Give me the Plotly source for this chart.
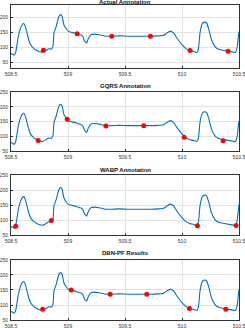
import plotly.graph_objects as go

# Signal (same in all panels)
sig_t = [508.500, 508.510, 508.520, 508.526, 508.535, 508.543, 508.554, 508.564, 508.584, 508.600,
         508.613, 508.630, 508.651, 508.671, 508.694, 508.723, 508.752, 508.781, 508.810, 508.833,
         508.854, 508.868, 508.877, 508.897, 508.920, 508.935, 508.949, 508.964, 508.984, 509.004,
         509.028, 509.057, 509.080, 509.100, 509.115, 509.130, 509.143, 509.155, 509.164, 509.172,
         509.181, 509.201, 509.230, 509.274, 509.332, 509.384, 509.448, 509.520, 509.600, 509.680,
         509.723, 509.790, 509.839, 509.868, 509.897, 509.926, 509.955, 509.999, 510.042, 510.071,
         510.100, 510.129, 510.143, 510.158, 510.178, 510.196, 510.216, 510.236, 510.259, 510.288,
         510.317, 510.361, 510.404, 510.448, 510.468, 510.483, 510.492, 510.500]
sig_v = [78, 77, 74, 73, 76, 85, 110, 135, 163, 175,
         178, 163, 130, 108, 97, 89, 84, 83, 89, 94,
         93, 102, 147, 169, 202, 208, 202, 174, 161, 152,
         149, 147, 144, 141, 140, 135, 122, 116, 113, 122,
         130, 141, 143, 141, 136, 136, 137, 136, 136, 136,
         136, 137, 139, 147, 153, 147, 130, 108, 93, 88,
         86, 82, 91, 147, 178, 183, 180, 158, 124, 102,
         93, 89, 86, 83, 82, 97, 125, 152]

# Annotation markers per panel
titles = ["Actual Annotation", "GQRS Annotation", "WABP Annotation", "DBN-PF Results"]
mk_t = [
    [508.784, 509.080, 509.384, 509.723, 510.071, 510.404],
    [508.738, 508.993, 509.332, 509.665, 510.019, 510.361],
    [508.541, 508.854, 510.135, 510.474],
    [508.778, 509.028, 509.370, 509.691, 510.065, 510.384],
]
mk_v = [
    [89, 144, 136, 136, 88, 86],
    [86, 158, 135, 136, 97, 85],
    [79, 98, 81, 82],
    [86, 150, 136, 136, 88, 86],
]
y_ranges = [[30, 240], [50, 250], [50, 250], [50, 250]]
y_ticks = [[50, 100, 150, 200], [50, 100, 150, 200, 250], [50, 100, 150, 200, 250], [50, 100, 150, 200, 250]]
x_ticks = [508.5, 509, 509.5, 510, 510.5]
x_tick_text = ["508.5", "509", "509.5", "510", "510.5"]

domains = [[0.800, 1.000], [0.5365, 0.7238], [0.2698, 0.4603], [0.0, 0.1905]]
title_y = [1.0095, 0.742, 0.476, 0.2127]

fig = go.Figure()
for i in range(4):
    xa = "x" if i == 0 else f"x{i+1}"
    ya = "y" if i == 0 else f"y{i+1}"
    fig.add_trace(go.Scatter(x=sig_t, y=sig_v, mode="lines", xaxis=xa, yaxis=ya,
                             line=dict(color="#0072BD", width=1.1, shape="spline", smoothing=0.5),
                             showlegend=False, hoverinfo="skip", cliponaxis=True))
    fig.add_trace(go.Scatter(x=mk_t[i], y=mk_v[i], mode="markers", xaxis=xa, yaxis=ya,
                             marker=dict(color="#FF0000", size=5), showlegend=False))
    axis_common = dict(showline=True, mirror=True, linecolor="#333333", linewidth=1,
                       showgrid=True, gridcolor="#E3E3E3", gridwidth=1, zeroline=False,
                       ticks="inside", ticklen=2, tickcolor="#333333", automargin=False,
                       ticklabeloverflow="allow",
                       tickfont=dict(size=5, color="#333333", family="Liberation Sans"))
    fig.layout[("xaxis" if i == 0 else f"xaxis{i+1}")] = dict(
        axis_common, range=[508.5, 510.5], tickvals=x_ticks, ticktext=x_tick_text,
        anchor=ya, domain=[0, 1], ticklabelstandoff=1)
    fig.layout[("yaxis" if i == 0 else f"yaxis{i+1}")] = dict(
        axis_common, range=y_ranges[i], tickvals=y_ticks[i], anchor=xa, domain=domains[i],
        ticklabelstandoff=1)
    fig.add_annotation(text="<b>" + titles[i] + "</b>", xref="paper", yref="paper",
                       x=0.5, y=title_y[i], xanchor="center", yanchor="middle",
                       showarrow=False, font=dict(size=6, color="#111111", family="Liberation Sans"))

fig.update_layout(width=245, height=328,
                  margin=dict(l=11, r=6, t=5, b=8, pad=0, autoexpand=False),
                  paper_bgcolor="white", plot_bgcolor="white", hovermode=False)
fig.write_html("out.html", config={"displayModeBar": False, "staticPlot": True},
               post_script="document.body.style.margin='0';document.body.style.overflow='hidden';")
